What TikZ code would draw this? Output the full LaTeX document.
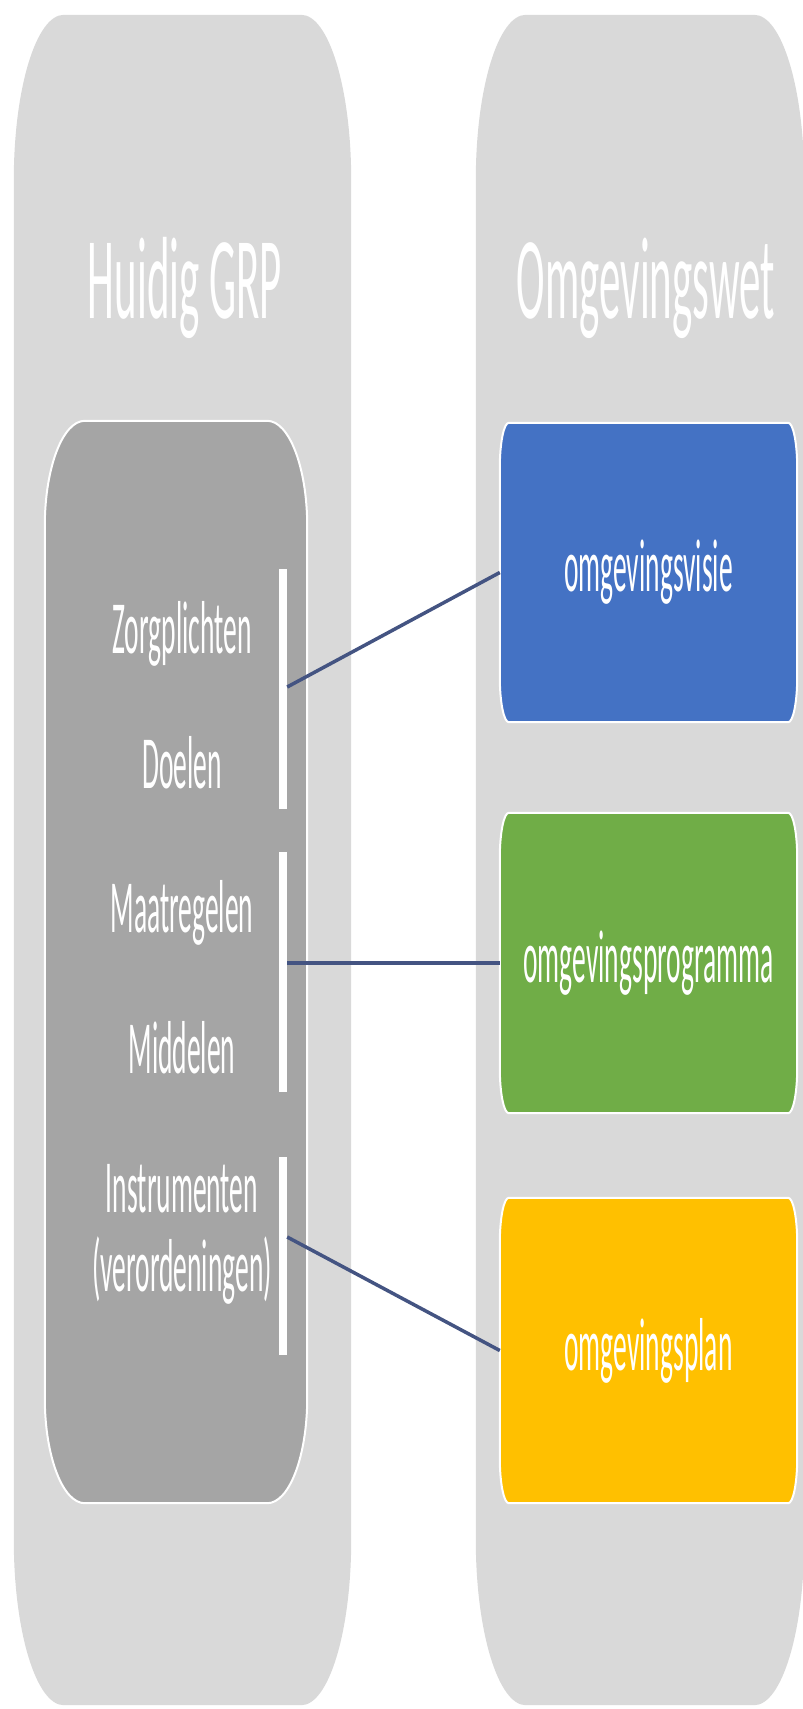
\documentclass[tikz,border=0pt]{standalone}
\usepackage{fontspec}
\setmainfont{Carlito}[FakeStretch=0.367]
\usetikzlibrary{positioning,backgrounds}
\definecolor{panelgrey}{HTML}{D9D9D9}
\definecolor{boxgrey}{HTML}{A5A5A5}
\definecolor{visieblue}{HTML}{4472C4}
\definecolor{progreen}{HTML}{70AD47}
\definecolor{planyellow}{HTML}{FFC000}
\definecolor{linkblue}{RGB}{68,84,130}
\tikzset{
    panel/.style={
        inner sep=0pt,
        minimum height=1690pt
    },
    stage/.style={
        inner sep=0pt,
        text=white,
        font=\fontsize{75}{80}\selectfont
    },
    title/.style={
        anchor=base,
        text=white,
        font=\fontsize{117}{120}\selectfont
    },
    item/.style={
        anchor=base,
        text=white,
        inner sep=0pt,
        font=\fontsize{75}{80}\selectfont
    },
    bar/.style={
        fill=white,
        inner sep=0pt,
        minimum width=8pt
    },
    link/.style={
        draw=linkblue,
        line width=3.5pt
    }
}
% box with elliptical corners round a node: node, x radius, y radius, options
\newcommand{\pill}[4]{%
    \path[#4] ([yshift=-#3]#1.north west)
        arc[start angle=180, end angle=90, x radius=#2, y radius=#3]
        -- ([xshift=-#2]#1.north east)
        arc[start angle=90, end angle=0, x radius=#2, y radius=#3]
        -- ([yshift=#3]#1.south east)
        arc[start angle=0, end angle=-90, x radius=#2, y radius=#3]
        -- ([xshift=#2]#1.south west)
        arc[start angle=270, end angle=180, x radius=#2, y radius=#3]
        -- cycle;}
\begin{document}
\begin{tikzpicture}[x=1pt, y=1pt]
    \useasboundingbox (0,0) rectangle (803,-1709);
    \node[panel, minimum width=337pt] (grp) at (182.5,-860) {};
    \node[panel, minimum width=328pt] (ow) at (640,-860) {};
    \node[stage, minimum width=262pt, minimum height=1082pt] (grpbox) at (176,-962) {};
    \node[stage, minimum width=297pt, minimum height=299pt] (visie) at (648.5,-572.5) {omgevingsvisie};
    \node[stage, minimum width=297pt, minimum height=300pt] (programma) at (648.5,-963) {omgevingsprogramma};
    \node[stage, minimum width=297pt, minimum height=305pt] (plan) at (648.5,-1350.5) {omgevingsplan};
    \begin{scope}[on background layer]
        \pill{grp}{50pt}{165pt}{fill=panelgrey}
        \pill{ow}{50pt}{165pt}{fill=panelgrey}
        \pill{grpbox}{40pt}{105pt}{fill=boxgrey, draw=white, line width=2pt}
        \pill{visie}{9pt}{45pt}{fill=visieblue, draw=white, line width=2pt}
        \pill{programma}{9pt}{45pt}{fill=progreen, draw=white, line width=2pt}
        \pill{plan}{9pt}{45pt}{fill=planyellow, draw=white, line width=2pt}
    \end{scope}
    \node[title] (grptitle) at (185,-318) {Huidig GRP};
    \node[title] (owtitle) at (646,-318) {Omgevingswet};
    \node[item] (zorg) at (182,-653) {Zorgplichten};
    \node[item] (doelen) at (182,-788) {Doelen};
    \node[item] (maatr) at (182,-932) {Maatregelen};
    \node[item] (middelen) at (182,-1073) {Middelen};
    \node[item] (instr) at (182,-1212) {Instrumenten};
    \node[item] (verord) at (182,-1291) {(verordeningen)};
    \node[bar, minimum height=240pt] (b1) at (283,-689) {};
    \node[bar, minimum height=240pt] (b2) at (283,-972) {};
    \node[bar, minimum height=198pt] (b3) at (283,-1256) {};
    \draw[link] ([yshift=2pt]b1.east) -- (visie.west);
    \draw[link] (b2.east |- programma.west) -- (programma.west);
    \draw[link] ([yshift=19pt]b3.east) -- (plan.west);
\end{tikzpicture}
\end{document}
